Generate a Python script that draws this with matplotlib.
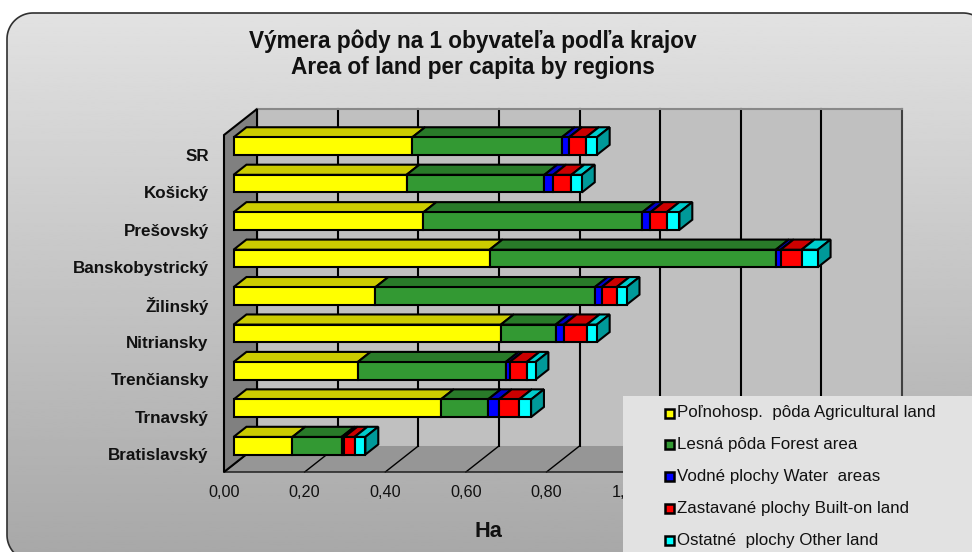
import numpy as np
import matplotlib
matplotlib.use("Agg")
from matplotlib import pyplot as plt
from matplotlib.patches import Polygon, Rectangle
from matplotlib.transforms import ScaledTranslation

regions = ["Bratislavský", "Trnavský", "Trenčiansky", "Nitriansky", "Žilinský",
           "Banskobystrický", "Prešovský", "Košický", "SR"]
agricultural = [0.146, 0.514, 0.308, 0.663, 0.352, 0.635, 0.471, 0.429, 0.443]
forest = [0.122, 0.117, 0.367, 0.136, 0.544, 0.710, 0.543, 0.342, 0.371]
water = [0.007, 0.027, 0.010, 0.020, 0.017, 0.012, 0.020, 0.022, 0.018]
built = [0.025, 0.050, 0.042, 0.057, 0.037, 0.052, 0.040, 0.045, 0.042]
other = [0.027, 0.030, 0.022, 0.025, 0.025, 0.040, 0.032, 0.026, 0.027]
xticks = [0.0, 0.2, 0.4, 0.6, 0.8, 1.0, 1.2, 1.4, 1.6]
xlabels = ["0,00", "0,20", "0,40", "0,60", "0,80", "1,00", "1,20", "1,40", "1,60"]

series = [agricultural, forest, water, built, other]
names = ["Poľnohosp.  pôda Agricultural land", "Lesná pôda Forest area",
         "Vodné plochy Water  areas", "Zastavané plochy Built-on land",
         "Ostatné  plochy Other land"]
front_cols = ["#ffff00", "#339933", "#0000ff", "#ff0000", "#00ffff"]
top_cols = ["#cccc00", "#297a29", "#0000cc", "#cc0000", "#00cccc"]
side_cols = ["#999900", "#1f5c1f", "#000099", "#990000", "#009999"]

plt.rcParams['font.family'] = ['Liberation Sans', 'DejaVu Sans']
W, H = 972, 552
fig = plt.figure(figsize=(W / 100, H / 100), dpi=100, facecolor="white")


def box(l, t, r, b):
    return [l / W, 1 - b / H, (r - l) / W, (b - t) / H]


def rounded(l, t, r, b, rad):
    # outline of a rounded box, straight segments only
    a = np.linspace(0, np.pi / 2, 24)
    pts = []
    for cx, cy, start in [(r - rad, b - rad, 0), (l + rad, b - rad, np.pi / 2),
                          (l + rad, t + rad, np.pi), (r - rad, t + rad, 3 * np.pi / 2)]:
        pts.extend(zip(cx + rad * np.cos(a + start), cy + rad * np.sin(a + start)))
    return pts


# background panel with pixel coords, runs off the right and bottom edge
bg = fig.add_axes([0, 0, 1, 1], zorder=0)
bg.set_xlim(0, W)
bg.set_ylim(H, 0)
bg.axis("off")
panel = Polygon(rounded(7, 13, 989, 561, 26), closed=True, fc="none", ec="#303030", lw=1.2, zorder=3)
bg.add_patch(panel)
grad = np.linspace(0.89, 0.66, 256).reshape(-1, 1)
im = bg.imshow(grad, extent=(0, W, H, 0), cmap="gray", vmin=0, vmax=1, aspect="auto", zorder=1)
im.set_clip_path(panel)

# chart axes = front plane of the 3d box
ax = fig.add_axes(box(224, 135, 869, 472), zorder=1)
ax.set_xlim(0, 1.6)
ax.set_ylim(-0.5, 8.5)
ax.patch.set_alpha(0)
for s in ax.spines.values():
    s.set_visible(False)

DX = 33 / 403
DY = 26 / 37.44


def pt(v, y, d):
    return (v + d * DX, y + d * DY)


def face(points, fc, ec="black", lw=1.5, z=2):
    ax.add_patch(Polygon(points, closed=True, fc=fc, ec=ec, lw=lw, clip_on=False,
                         zorder=z, joinstyle="miter"))


# walls and floor
face([pt(0, -0.5, 1), pt(1.6, -0.5, 1), pt(1.6, 8.5, 1), pt(0, 8.5, 1)], "#c0c0c0", ec="none", z=1)
face([pt(0, -0.5, 0), pt(1.6, -0.5, 0), pt(1.6, -0.5, 1), pt(0, -0.5, 1)], "#969696", ec="none", z=1)
face([pt(0, -0.5, 0), pt(0, 8.5, 0), pt(0, 8.5, 1), pt(0, -0.5, 1)], "#808080", lw=1.5, z=1.3)
for t in xticks:
    if t == 1.6:
        col = "#404040"
    else:
        col = "black"
    ax.plot(*zip(pt(t, -0.5, 0), pt(t, -0.5, 1)), color=col, lw=1.0, clip_on=False, zorder=1.2)
    ax.plot(*zip(pt(t, -0.5, 1), pt(t, 8.5, 1)), color=col, lw=1.5, clip_on=False, zorder=1.2)
ax.plot(*zip(pt(0, 8.5, 1), pt(1.6, 8.5, 1)), color="#888888", lw=1.5, clip_on=False, zorder=1.2)
ax.plot([0, 1.6], [-0.5, -0.5], color="#202020", lw=1.1, clip_on=False, zorder=1.25)

# stacked bars
H_BAR = 0.235
D0, D1 = 0.29, 0.68
for i in range(len(regions)):
    left = 0
    for k, vals in enumerate(series):
        v = vals[i]
        z = 3 + i * -0.05 + k * 0.001
        x0, x1 = left, left + v
        lo, hi = i - H_BAR, i + H_BAR
        face([pt(x0, hi, D0), pt(x1, hi, D0), pt(x1, hi, D1), pt(x0, hi, D1)], top_cols[k], z=z)
        face([pt(x0, lo, D0), pt(x1, lo, D0), pt(x1, hi, D0), pt(x0, hi, D0)], front_cols[k], z=z + 0.0005)
        left = x1
    face([pt(left, lo, D0), pt(left, hi, D0), pt(left, hi, D1), pt(left, lo, D1)], side_cols[4], z=z)

ax.set_yticks(range(len(regions)))
ax.set_yticklabels(regions, fontsize=12.25, fontweight="bold", color="#111111")
ax.set_xticks(xticks)
ax.set_xticklabels(xlabels, fontsize=11.7, color="#111111")
ax.tick_params(axis="y", length=0, pad=11)
ax.tick_params(axis="x", length=0, pad=9.5)
# labels sit a pixel lower in the reference
down = ScaledTranslation(0, -1 / 100, fig.dpi_scale_trans)
for lab in ax.get_yticklabels():
    lab.set_transform(lab.get_transform() + down)
ax.set_xlabel("Ha", fontsize=15.7, fontweight="bold", x=0.41, labelpad=15, color="#111111")

fig.text(473 / W, 1 - 54 / H, "Výmera pôdy na 1 obyvateľa podľa krajov\nArea of land per capita by regions",
         ha="center", va="center", fontsize=16.3, fontweight="bold", color="#111111", linespacing=1.15)

# legend box, drawn in pixel coords over everything
lg = fig.add_axes([0, 0, 1, 1], zorder=2)
lg.set_xlim(0, W)
lg.set_ylim(H, 0)
lg.axis("off")
lg.patch.set_alpha(0)
lg.add_patch(Rectangle((623, 396), W - 623, H - 396, fc="#e2e2e2", ec="none"))
for k, name in enumerate(names):
    y = 413 + k * 31.8
    lg.add_patch(Rectangle((664.5, y - 4.5), 9, 9, fc=front_cols[k], ec="black", lw=1.8))
    lg.text(676.5, y, name, fontsize=12.15, va="center", ha="left", color="#111111")

fig.savefig("out.png", dpi=100)
